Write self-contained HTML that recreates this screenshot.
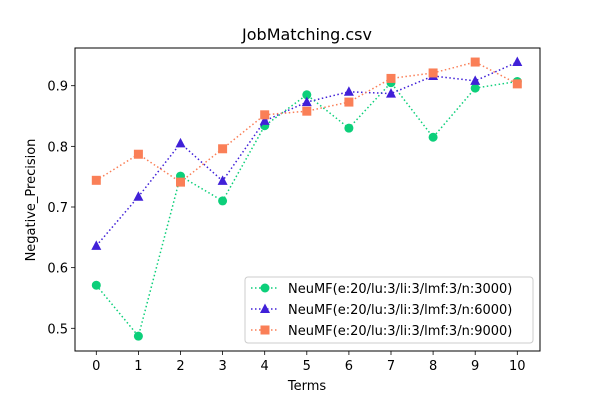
<!DOCTYPE html>
<html><head><meta charset="utf-8"><style>
body{margin:0;background:#fff;}
svg{display:block;font-family:"DejaVu Sans","Liberation Sans",sans-serif;}
</style></head><body>
<svg id="chart" width="600" height="400"></svg>
<script>
const categories=[0,1,2,3,4,5,6,7,8,9,10];
const yTicks=[0.5,0.6,0.7,0.8,0.9];
const seriesNames=["NeuMF(e:20/lu:3/li:3/lmf:3/n:3000)","NeuMF(e:20/lu:3/li:3/lmf:3/n:6000)","NeuMF(e:20/lu:3/li:3/lmf:3/n:9000)"];
const s3000=[0.571,0.487,0.751,0.710,0.834,0.885,0.830,0.905,0.815,0.896,0.907];
const s6000=[0.636,0.717,0.805,0.743,0.842,0.873,0.890,0.887,0.916,0.908,0.939];
const s9000=[0.744,0.787,0.741,0.796,0.852,0.858,0.873,0.912,0.921,0.939,0.903];
const colors=["#0ccf7a","#4020d8","#fa7f57"];
const markers=["circle","triangle","square"];
const NS="http://www.w3.org/2000/svg";
const svg=document.getElementById('chart');
const L=75,R=540,T=48,B=351;
const xS=v=>96.3+v*42.1;
const yS=v=>328.3-(v-0.5)*606.5;
function mk(tag,attrs,parent){const e=document.createElementNS(NS,tag);for(const k in attrs)e.setAttribute(k,attrs[k]);(parent||svg).appendChild(e);return e;}
function txt(s,x,y,attrs,parent){const t=mk('text',Object.assign({x:x,y:y,fill:'#000','font-size':13},attrs),parent);t.textContent=s;return t;}
let t=txt("JobMatching.csv",307,40,{'text-anchor':'middle','font-size':16});

categories.forEach(c=>{
  const x=xS(c);
  const l=mk('line',{x1:x,x2:x,y1:B,y2:B+4,stroke:'#000','stroke-width':0.8});
  
  const tt=txt(String(c),x,B+19,{'text-anchor':'middle','font-size':13});
  
});
yTicks.forEach(v=>{
  const y=yS(v);
  const l=mk('line',{x1:L-4,x2:L,y1:y,y2:y,stroke:'#000','stroke-width':0.8});
  
  const tt=txt(v.toFixed(1),L-7,y+5,{'text-anchor':'end','font-size':13});
  
});
t=txt("Terms",307,390,{'text-anchor':'middle','font-size':13});

t=txt("Negative_Precision",35,200,{'text-anchor':'middle','font-size':13,transform:'rotate(-90 35 200)'});

function marker(type,x,y,color,g){
  if(type==='circle')return mk('circle',{cx:x,cy:y,r:4.5,fill:color},g);
  if(type==='triangle')return mk('polygon',{points:`${x},${y-5.5} ${x-5},${y+4} ${x+5},${y+4}`,fill:color},g);
  return mk('rect',{x:x-4.5,y:y-4.5,width:9,height:9,fill:color},g);
}
[s3000,s6000,s9000].forEach((s,i)=>{
  const g=mk('g',{});
  
  
  const p=mk('polyline',{points:s.map((v,j)=>xS(categories[j])+','+yS(v)).join(' '),fill:'none',stroke:colors[i],'stroke-width':1.5,'stroke-dasharray':'1.5,2.5'},g);
  
  s.forEach((v,j)=>{const m=marker(markers[i],xS(categories[j]),yS(v),colors[i],g);
    });
});
const frame=mk('rect',{x:L,y:T,width:R-L,height:B-T,fill:'none',stroke:'#000','stroke-width':1});

const lg=mk('g',{});

mk('rect',{x:245,y:277,width:288,height:66,rx:3,fill:'#fff','fill-opacity':0.8,stroke:'#ccc'},lg);
seriesNames.forEach((n,i)=>{
  const y=288+i*21;
  const e=mk('g',{},lg);
  
  mk('line',{x1:251,x2:279,y1:y,y2:y,stroke:colors[i],'stroke-width':1.5,'stroke-dasharray':'1.5,2.5'},e);
  marker(markers[i],265,y,colors[i],e);
  txt(n,288,y+5,{'font-size':13},e);
});
</script>
</body></html>
